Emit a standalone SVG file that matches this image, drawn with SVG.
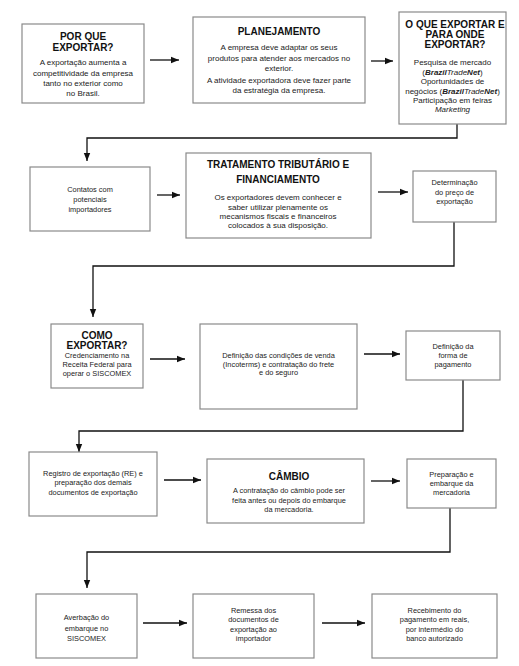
<svg xmlns="http://www.w3.org/2000/svg" width="519" height="666" viewBox="0 0 519 666">
<style>
.box{fill:#fff;stroke:#8a8a8a;stroke-width:1.2}
.t{font-family:"Liberation Sans",Arial,sans-serif;font-weight:bold;font-size:10px;fill:#111;text-anchor:middle}
.b{font-family:"Liberation Sans",Arial,sans-serif;font-size:8px;fill:#222;text-anchor:middle}
.s{font-family:"Liberation Sans",Arial,sans-serif;font-size:7.4px;fill:#222;text-anchor:middle}
.c{fill:none;stroke:#111;stroke-width:1.3}
</style>
<defs>
<marker id="ah" viewBox="0 0 8 8" refX="8" refY="4" markerWidth="8" markerHeight="8" markerUnits="userSpaceOnUse" orient="auto">
<path d="M0,0.8 L8,4 L0,7.2 Z" fill="#111"/>
</marker>
</defs>
<rect width="519" height="666" fill="#fff"/>
<g id="connectors">
<path class="c" d="M150,60 H179" marker-end="url(#ah)"/>
<path class="c" d="M371,61 H393" marker-end="url(#ah)"/>
<path class="c" d="M457,124 V138 H87 V161" marker-end="url(#ah)"/>
<path class="c" d="M157,195 H180" marker-end="url(#ah)"/>
<path class="c" d="M378,192 H408" marker-end="url(#ah)"/>
<path class="c" d="M454,222 V266 H93 V317" marker-end="url(#ah)"/>
<path class="c" d="M150,359 H185" marker-end="url(#ah)"/>
<path class="c" d="M364,354 H400" marker-end="url(#ah)"/>
<path class="c" d="M463,380 V431 H79 V452" marker-end="url(#ah)"/>
<path class="c" d="M164,480 H201" marker-end="url(#ah)"/>
<path class="c" d="M371,481 H400" marker-end="url(#ah)"/>
<path class="c" d="M450,508 V552 H87 V588" marker-end="url(#ah)"/>
<path class="c" d="M143,623 H187" marker-end="url(#ah)"/>
<path class="c" d="M322,623 H365" marker-end="url(#ah)"/>
</g>
<g id="n1">
<rect class="box" x="22" y="24" width="122" height="79"/>
<text class="t" x="83" y="39.5">POR QUE</text>
<text class="t" x="83" y="51">EXPORTAR?</text>
<text class="b" x="83" y="65">A exportação aumenta a</text>
<text class="b" x="83" y="75.5">competitividade da empresa</text>
<text class="b" x="83" y="85.5">tanto no exterior como</text>
<text class="b" x="83" y="95.5">no Brasil.</text>
</g>
<g id="n2">
<rect class="box" x="193" y="17" width="172" height="86"/>
<text class="t" x="279" y="35">PLANEJAMENTO</text>
<text class="b" x="279" y="50">A empresa deve adaptar os seus</text>
<text class="b" x="279" y="60.5">produtos para atender aos mercados no</text>
<text class="b" x="279" y="71">exterior.</text>
<text class="b" x="279" y="83">A atividade exportadora deve fazer parte</text>
<text class="b" x="279" y="93">da estratégia da empresa.</text>
</g>
<g id="n3">
<rect class="box" x="399" y="12" width="107" height="112"/>
<text class="t" x="455" y="27.5" font-size="9.5">O QUE EXPORTAR E</text>
<text class="t" x="455" y="37.7" font-size="9.5">PARA ONDE</text>
<text class="t" x="455" y="48" font-size="9.5">EXPORTAR?</text>
<text class="b" x="452.5" y="65">Pesquisa de mercado</text>
<text class="b" x="452.5" y="74.5">(<tspan font-weight="bold" font-style="italic">Brazil</tspan><tspan font-style="italic">Trade</tspan><tspan font-weight="bold" font-style="italic">Net</tspan>)</text>
<text class="b" x="452.5" y="84">Oportunidades de</text>
<text class="b" x="452.5" y="93.5">negócios (<tspan font-weight="bold" font-style="italic">Brazil</tspan><tspan font-style="italic">Trade</tspan><tspan font-weight="bold" font-style="italic">Net</tspan>)</text>
<text class="b" x="452.5" y="102.5">Participação em feiras</text>
<text class="b" x="452.5" y="111.5" font-style="italic">Marketing</text>
</g>
<g id="n4">
<rect class="box" x="30" y="167" width="120" height="64"/>
<text class="s" x="90" y="191.5">Contatos com</text>
<text class="s" x="90" y="202">potenciais</text>
<text class="s" x="90" y="212">importadores</text>
</g>
<g id="n5">
<rect class="box" x="186" y="153" width="185" height="85"/>
<text class="t" x="278" y="168">TRATAMENTO TRIBUTÁRIO  E</text>
<text class="t" x="278" y="182.5">FINANCIAMENTO</text>
<text class="b" x="278" y="200">Os exportadores devem conhecer e</text>
<text class="b" x="278" y="209.5">saber utilizar plenamente os</text>
<text class="b" x="278" y="218.5">mecanismos fiscais e financeiros</text>
<text class="b" x="278" y="227.5">colocados à sua disposição.</text>
</g>
<g id="n6">
<rect class="box" x="413" y="171" width="83" height="51"/>
<text class="s" x="454.5" y="185">Determinação</text>
<text class="s" x="454.5" y="194.5">do preço de</text>
<text class="s" x="454.5" y="203.5">exportação</text>
</g>
<g id="n7">
<rect class="box" x="51" y="324" width="92" height="64"/>
<text class="t" x="97" y="339">COMO</text>
<text class="t" x="97" y="348.5">EXPORTAR?</text>
<text class="s" x="97" y="358">Credenciamento na</text>
<text class="s" x="97" y="367">Receita Federal para</text>
<text class="s" x="97" y="376">operar o SISCOMEX</text>
</g>
<g id="n8">
<rect class="box" x="200" y="324" width="157" height="85"/>
<text class="s" x="278.5" y="358">Definição das condições de venda</text>
<text class="s" x="278.5" y="367">(Incoterms) e contratação do frete</text>
<text class="s" x="278.5" y="375">e do seguro</text>
</g>
<g id="n9">
<rect class="box" x="406" y="331" width="94" height="49"/>
<text class="s" x="453" y="349">Definição da</text>
<text class="s" x="453" y="358">forma de</text>
<text class="s" x="453" y="367">pagamento</text>
</g>
<g id="n10">
<rect class="box" x="29" y="452" width="128" height="64"/>
<text class="s" x="93" y="476">Registro de exportação (RE) e</text>
<text class="s" x="93" y="485">preparação dos demais</text>
<text class="s" x="93" y="495">documentos de exportação</text>
</g>
<g id="n11">
<rect class="box" x="207" y="459" width="157" height="64"/>
<text class="t" x="289" y="480">CÂMBIO</text>
<text class="s" x="289" y="493">A contratação do câmbio pode ser</text>
<text class="s" x="289" y="502.5">feita antes ou depois do embarque</text>
<text class="s" x="289" y="512">da mercadoria.</text>
</g>
<g id="n12">
<rect class="box" x="407" y="459" width="89" height="49"/>
<text class="s" x="451.5" y="476.5">Preparação e</text>
<text class="s" x="451.5" y="486">embarque da</text>
<text class="s" x="451.5" y="495">mercadoria</text>
</g>
<g id="n13">
<rect class="box" x="36" y="594" width="101" height="64"/>
<text class="s" x="86.5" y="620">Averbação do</text>
<text class="s" x="86.5" y="630.5">embarque no</text>
<text class="s" x="86.5" y="641">SISCOMEX</text>
</g>
<g id="n14">
<rect class="box" x="193" y="594" width="121" height="64"/>
<text class="s" x="253.5" y="613">Remessa dos</text>
<text class="s" x="253.5" y="622">documentos de</text>
<text class="s" x="253.5" y="631.5">exportação ao</text>
<text class="s" x="253.5" y="640.5">importador</text>
</g>
<g id="n15">
<rect class="box" x="372" y="594" width="125" height="64"/>
<text class="s" x="434.5" y="613">Recebimento do</text>
<text class="s" x="434.5" y="622">pagamento em reais,</text>
<text class="s" x="434.5" y="631.5">por intermédio do</text>
<text class="s" x="434.5" y="640.5">banco autorizado</text>
</g>
</svg>
